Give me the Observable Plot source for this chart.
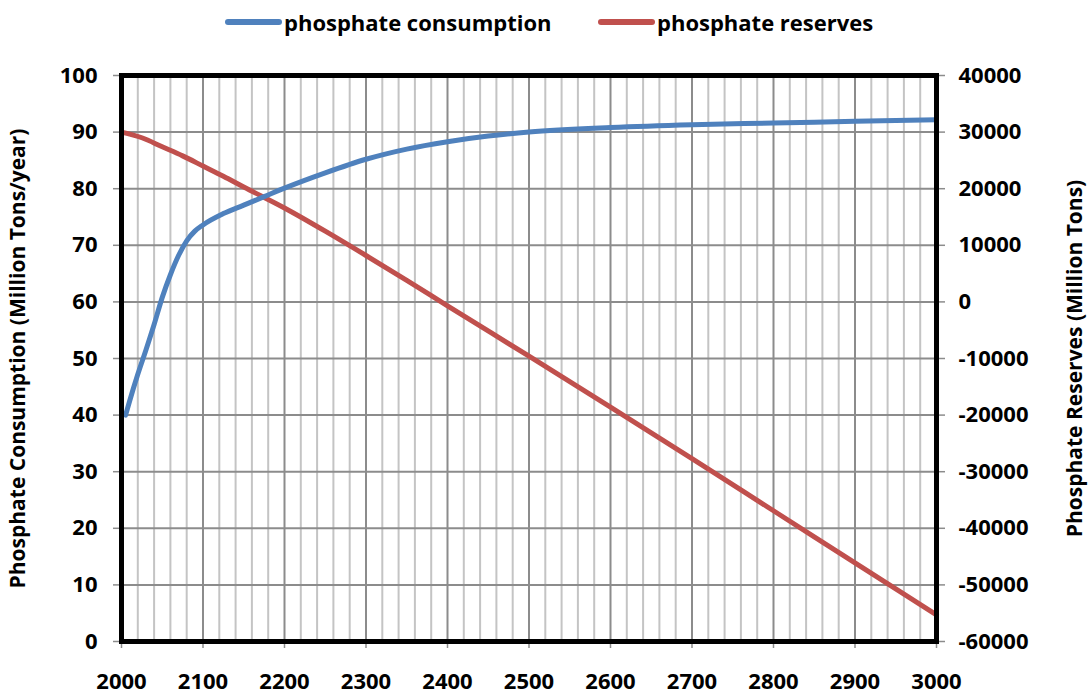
<!DOCTYPE html>
<html>
<head>
<meta charset="utf-8">
<script src="https://cdn.jsdelivr.net/npm/d3@7"></script>
<script src="https://cdn.jsdelivr.net/npm/@observablehq/plot@0.6"></script>
<style>
  body { margin: 0; background: #fff; font-family: "Open Sans", sans-serif; }
  #legend { position: relative; height: 44px; width: 1089px; font-weight: bold; font-size: 22px; color: #000; }
  .item { position: absolute; top: 0; height: 44px; display: flex; align-items: center; white-space: nowrap; }
  .sw { display: inline-block; width: 57px; height: 6px; border-radius: 3px; margin-right: 2px; }
  #chart svg { display: block; overflow: visible; }
</style>
</head>
<body>
<div id="legend"></div>
<div id="chart"></div>
<script>
// ---- data ----
const seriesNames = ["phosphate consumption", "phosphate reserves"];
const seriesColors = ["#4f81bd", "#c0504d"];

const consYears  = [2005, 2010, 2020, 2030, 2040, 2050, 2060, 2070, 2080, 2090, 2100, 2125, 2150, 2175, 2200, 2250, 2300, 2350, 2400, 2450, 2500, 2600, 2700, 2800, 2900, 3000];
const consValues = [40, 42.5, 47.2, 51.5, 56, 60.8, 64.8, 68.2, 70.8, 72.5, 73.6, 75.6, 77.1, 78.6, 80.1, 82.8, 85.2, 87, 88.3, 89.3, 90, 90.8, 91.3, 91.6, 91.9, 92.2];

const resYears  = [2000, 2025, 2050, 2075, 2100, 2125, 2150, 2200, 2250, 2300, 2350, 2400, 2500, 2600, 2700, 2800, 2900, 3000];
const resValues = [30000, 29000, 27400, 25800, 24000, 22200, 20300, 16600, 12500, 8200, 3800, -700, -9600, -18600, -27700, -36900, -46100, -55300];

const xTicks = [2000, 2100, 2200, 2300, 2400, 2500, 2600, 2700, 2800, 2900, 3000];
const xMinor = [2020, 2040, 2060, 2080, 2120, 2140, 2160, 2180, 2220, 2240, 2260, 2280, 2320, 2340, 2360, 2380, 2420, 2440, 2460, 2480, 2520, 2540, 2560, 2580, 2620, 2640, 2660, 2680, 2720, 2740, 2760, 2780, 2820, 2840, 2860, 2880, 2920, 2940, 2960, 2980];
const yTicks = [0, 10, 20, 30, 40, 50, 60, 70, 80, 90, 100];
const y2Ticks = [-60000, -50000, -40000, -30000, -20000, -10000, 0, 10000, 20000, 30000, 40000];

const leftTitle = "Phosphate Consumption (Million Tons/year)";
const rightTitle = "Phosphate Reserves (Million Tons)";

// map right-axis values onto the left scale (0..100 <-> -60000..40000)
const toLeft = v => (v + 60000) / 1000;

const consData = consYears.map((x, i) => ({x, y: consValues[i]}));
const resData = resYears.map((x, i) => ({x, y: toLeft(resValues[i])}));

// ---- legend ----
const legend = document.getElementById("legend");
const lefts = [225, 598];
seriesNames.forEach((n, i) => {
  const d = document.createElement("div");
  d.className = "item";
  d.style.left = lefts[i] + "px";
  d.innerHTML = `<span class="sw" style="background:${seriesColors[i]}"></span><span>${n}</span>`;
  legend.appendChild(d);
});

// ---- chart ----
const chart = Plot.plot({
  width: 1089,
  height: 652,
  marginTop: 31,
  marginBottom: 55,
  marginLeft: 121,
  marginRight: 153,
  style: {fontFamily: "'Open Sans', sans-serif", fontSize: "22px", fontWeight: "bold", color: "#000", background: "#fff", overflow: "visible"},
  x: {domain: [2000, 3000]},
  y: {domain: [0, 100]},
  marks: [
    Plot.ruleX(xMinor, {stroke: "#c4c4c4", strokeWidth: 2}),
    Plot.ruleX(xTicks, {stroke: "#8c8c8c", strokeWidth: 2}),
    Plot.ruleY(yTicks, {stroke: "#8c8c8c", strokeWidth: 2}),
    Plot.line(resData, {x: "x", y: "y", stroke: seriesColors[1], strokeWidth: 5, curve: "monotone-x"}),
    Plot.line(consData, {x: "x", y: "y", stroke: seriesColors[0], strokeWidth: 5, curve: "monotone-x"}),
    Plot.axisY(yTicks, {anchor: "left", tickSize: 8, tickPadding: 16, stroke: "#8c8c8c", strokeWidth: 1.5, fill: "#000", label: null}),
    Plot.axisY(yTicks, {anchor: "right", tickSize: 8, tickPadding: 14, stroke: "#8c8c8c", strokeWidth: 1.5, fill: "#000", label: null,
      tickFormat: (d, i) => String(y2Ticks[i])}),
    Plot.axisX(xTicks, {anchor: "bottom", tickSize: 7, tickPadding: 25, stroke: "#8c8c8c", strokeWidth: 1.5, fill: "#000", label: null,
      tickFormat: d => String(d)}),
    Plot.frame({stroke: "#000", strokeWidth: 5}),
    Plot.text([leftTitle], {frameAnchor: "left", textAnchor: "middle", dx: -103, rotate: -90, fontSize: 21, fontWeight: "bold", fill: "#000"}),
    Plot.text([rightTitle], {frameAnchor: "right", textAnchor: "middle", dx: 139, rotate: -90, fontSize: 21, fontWeight: "bold", fill: "#000"})
  ]
});
document.getElementById("chart").appendChild(chart);
</script>
</body>
</html>
